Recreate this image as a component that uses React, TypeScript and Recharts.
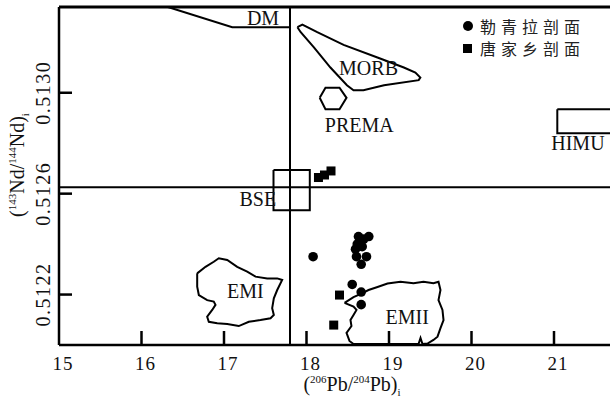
import React from 'react';
import { ComposedChart, Scatter, XAxis, YAxis, ReferenceLine } from 'recharts';

type Pair = [number, number];

// axis ticks
const xTicks = [15, 16, 17, 18, 19, 20, 21];
const yTicks = [0.5122, 0.5126, 0.513];

// samples
const lqlSamples: Pair[] = [
  [18.08, 0.51235], [18.63, 0.51243], [18.755, 0.51243], [18.695, 0.51242],
  [18.615, 0.5124], [18.675, 0.51239], [18.594, 0.51238], [18.606, 0.51235],
  [18.727, 0.51235], [18.663, 0.51232], [18.554, 0.51224], [18.663, 0.51221],
  [18.663, 0.51216],
];
const tjxSamples: Pair[] = [
  [18.145, 0.512664], [18.218, 0.512674], [18.297, 0.51269],
  [18.4, 0.512198], [18.33, 0.512079],
];

// mantle end-member fields
const dmLine: Pair[] = [[16.32, 0.51334], [17.1, 0.51326], [17.8, 0.51326]];
const morbField: Pair[] = [
  [17.89, 0.51326], [17.95, 0.51327], [18.13, 0.51324], [18.45, 0.51319], [18.86, 0.51314],
  [19.18, 0.5131], [19.32, 0.51308], [19.38, 0.51306], [19.36, 0.51305], [18.94, 0.51303],
  [18.69, 0.51301], [18.57, 0.51301], [18.49, 0.51303], [18.29, 0.5131], [18.09, 0.51318],
  [17.93, 0.51324], [17.89, 0.51326],
];
const premaField: Pair[] = [
  [18.16, 0.51298], [18.23, 0.51302], [18.4, 0.51302], [18.485, 0.51298],
  [18.4, 0.512935], [18.23, 0.512935], [18.16, 0.51298],
];
const himuField: Pair[] = [
  [21.04, 0.512935], [22.2, 0.512935], [22.2, 0.512839], [21.04, 0.512839], [21.04, 0.512935],
];
const bseField: Pair[] = [
  [17.6, 0.512694], [18.04, 0.512694], [18.04, 0.512534], [17.6, 0.512534], [17.6, 0.512694],
];
const emiField: Pair[] = [
  [16.675, 0.512284], [16.776, 0.51231], [16.876, 0.51233], [16.937, 0.512344], [17.039, 0.512337],
  [17.16, 0.51231], [17.281, 0.512291], [17.382, 0.512271], [17.524, 0.512264], [17.645, 0.512264],
  [17.705, 0.512258], [17.645, 0.512218], [17.604, 0.512185], [17.584, 0.512146], [17.604, 0.512119],
  [17.564, 0.512106], [17.442, 0.512099], [17.301, 0.512092], [17.179, 0.512075], [17.039, 0.512083],
  [16.918, 0.512086], [16.816, 0.512092], [16.796, 0.512112], [16.857, 0.512139], [16.897, 0.512159],
  [16.876, 0.512172], [16.796, 0.512178], [16.695, 0.512198], [16.675, 0.512231], [16.675, 0.512284],
];
const emiiField: Pair[] = [
  [18.461, 0.512167], [18.57, 0.51219], [18.679, 0.512206], [18.752, 0.512218], [18.861, 0.51223],
  [18.982, 0.512244], [19.139, 0.512251], [19.297, 0.512245], [19.418, 0.512251], [19.539, 0.512245],
  [19.6, 0.512251], [19.624, 0.512218], [19.6, 0.512178], [19.648, 0.512139], [19.661, 0.512099],
  [19.624, 0.512067], [19.588, 0.512033], [19.539, 0.51202], [19.467, 0.512006], [19.406, 0.512004],
  [19.382, 0.512028], [19.358, 0.512004], [18.57, 0.512004], [18.521, 0.512016], [18.485, 0.512048],
  [18.545, 0.512075], [18.533, 0.512099], [18.57, 0.512119], [18.606, 0.512139], [18.57, 0.512152],
  [18.461, 0.512167],
];

// field names (label centres)
const fieldNames = ['DM', 'MORB', 'PREMA', 'HIMU', 'BSE', 'EMI', 'EMII'];
const fieldNamePos: Pair[] = [
  [17.473, 0.513295], [18.752, 0.5131], [18.64, 0.512872], [21.29, 0.512801],
  [17.41, 0.512579], [17.26, 0.512214], [19.22, 0.512111],
];

// crosshair through BSE
const bseX = 17.8;
const bseY = 0.512625;
const yTop = 0.51334;

const legendNames = ['勒青拉剖面', '唐家乡剖面'];

const toPts = (a: Pair[]) => a.map(([x, y]) => ({ x, y }));
const serif = '"Liberation Serif", "Times New Roman", serif';

const XTick = ({ x, y, payload }: any) => (
  <g>
    {payload.value !== 15 && (
      <line x1={x} x2={x} y1={y} y2={y - 14} stroke="#000" strokeWidth={2.5} />
    )}
    <text x={x + 4} y={y + 25} textAnchor="middle" fontFamily={serif} fontSize={19}
      letterSpacing={1} fill="#111">{payload.value}</text>
  </g>
);

const YTick = ({ x, y, payload }: any) => (
  <g>
    <line x1={x} x2={x + 13} y1={y} y2={y} stroke="#000" strokeWidth={2.5} />
    <text transform={`translate(${x - 16},${y}) rotate(-90)`} textAnchor="middle"
      dominantBaseline="central" fontFamily={serif} fontSize={20} letterSpacing={1.5}
      fill="#111">{payload.value.toFixed(4)}</text>
  </g>
);

const XTitle = () => (
  <text x={352} y={391} textAnchor="middle" fontFamily={serif} fontSize={20} fill="#111">
    (<tspan fontSize={11} dy={-8}>206</tspan><tspan dy={8}>Pb/</tspan>
    <tspan fontSize={11} dy={-8}>204</tspan><tspan dy={8}>Pb)</tspan>
    <tspan fontSize={11} dy={5}>i</tspan>
  </text>
);

const YTitle = () => (
  <text transform="translate(24,165) rotate(-90)" textAnchor="middle" fontFamily={serif}
    fontSize={20} fill="#111">
    (<tspan fontSize={11} dy={-8}>143</tspan><tspan dy={8}>Nd/</tspan>
    <tspan fontSize={11} dy={-8}>144</tspan><tspan dy={8}>Nd)</tspan>
    <tspan fontSize={11} dy={5}>i</tspan>
  </text>
);

const noDot = () => <g />;
const lineStyle = { stroke: '#000', strokeWidth: 2 };

const fields = [dmLine, morbField, premaField, himuField, bseField, emiField, emiiField];

const App = () => {
  const names = fieldNames.map((t, i) => ({ x: fieldNamePos[i][0], y: fieldNamePos[i][1], t }));

  return (
    <div style={{ position: 'absolute', left: 0, top: 0, width: 610, height: 400, overflow: 'hidden', background: '#fff' }}>
      <ComposedChart width={719} height={400} margin={{ top: 7, right: 0, bottom: 5, left: 0 }}>
        <XAxis type="number" dataKey="x" domain={[15, 23]} ticks={xTicks} interval={0}
          allowDataOverflow height={50} tickSize={0} tickMargin={0} tickLine={false}
          axisLine={{ stroke: '#000', strokeWidth: 2.5 }} tick={<XTick />} label={<XTitle />} />
        <YAxis type="number" dataKey="y" domain={[0.512, yTop]} ticks={yTicks} interval={0}
          allowDataOverflow width={59} tickSize={0} tickMargin={0} tickLine={false}
          axisLine={{ stroke: '#000', strokeWidth: 2.5 }} tick={<YTick />} label={<YTitle />} />
        <ReferenceLine y={yTop} stroke="#000" strokeWidth={3} />
        <ReferenceLine y={bseY} stroke="#000" strokeWidth={2} />
        <ReferenceLine x={bseX} stroke="#000" strokeWidth={2} />
        {fields.map((f, i) => (
          <Scatter key={i} data={toPts(f)} line={lineStyle} shape={noDot} isAnimationActive={false} />
        ))}
        <Scatter data={names} isAnimationActive={false}
          shape={(p: any) => (
            <text x={p.cx} y={p.cy} textAnchor="middle" dominantBaseline="central"
              fontFamily={serif} fontSize={20} fill="#111">{p.payload.t}</text>
          )} />
        <Scatter name={legendNames[0]} data={toPts(lqlSamples)} isAnimationActive={false}
          shape={(p: any) => <circle cx={p.cx} cy={p.cy} r={4.8} fill="#000" />} />
        <Scatter name={legendNames[1]} data={toPts(tjxSamples)} isAnimationActive={false}
          shape={(p: any) => <rect x={p.cx - 4.5} y={p.cy - 4.5} width={9} height={9} fill="#000" />} />
      </ComposedChart>
      <div style={{ position: 'absolute', left: 463, top: 15, fontFamily: '"Noto Sans CJK SC", sans-serif', fontSize: 16, letterSpacing: 5, color: '#222' }}>
        <div style={{ display: 'flex', alignItems: 'center', height: 22, lineHeight: '22px' }}>
          <span style={{ width: 10, height: 10, borderRadius: 5, background: '#000', marginRight: 7 }} />
          {legendNames[0]}
        </div>
        <div style={{ display: 'flex', alignItems: 'center', height: 22, lineHeight: '22px' }}>
          <span style={{ width: 9, height: 9, background: '#000', marginRight: 8 }} />
          {legendNames[1]}
        </div>
      </div>
    </div>
  );
};

export default App;
